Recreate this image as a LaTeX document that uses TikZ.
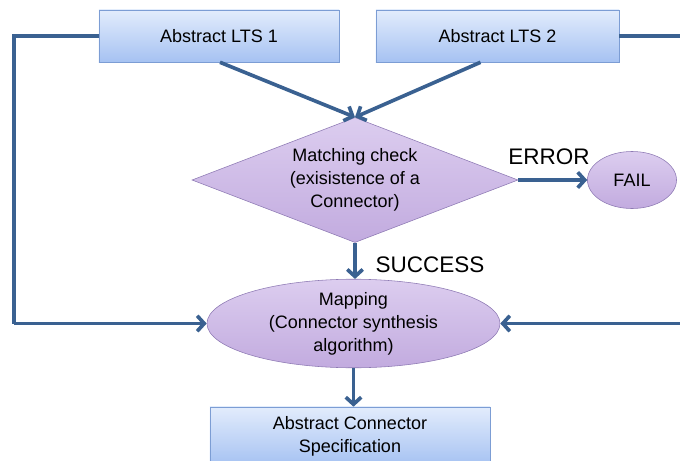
\documentclass[tikz,border=0pt]{standalone}
\usepackage{fontspec}
\setmainfont{Liberation Sans}
\usetikzlibrary{shapes,arrows.meta,calc}
\definecolor{lineblue}{HTML}{3A6191}
\definecolor{boxtop}{HTML}{E2ECFC}
\definecolor{boxbot}{HTML}{A6C2F2}
\definecolor{boxedge}{HTML}{7C9DD4}
\definecolor{purtop}{HTML}{DCCDEF}
\definecolor{purbot}{HTML}{C2ABDF}
\definecolor{puredge}{HTML}{8E7AB4}
\newcommand{\txt}{\fontsize{12.8}{16.3}\selectfont}
\newcommand{\lbl}{\fontsize{16}{18}\selectfont}

\begin{document}
\begin{tikzpicture}[x=0.025cm, y=-0.025cm]
        \tikzset{
            ltsbox/.style={rectangle, draw=boxedge, top color=boxtop, bottom color=boxbot,
                minimum height=1.3cm, inner sep=0pt, align=center, font=\txt},
            checkbox/.style={diamond, draw=puredge, top color=purtop, bottom color=purbot,
                minimum width=8.15cm, minimum height=3.125cm, aspect=2.6, inner sep=0pt,
                align=center, font=\txt},
            mapbox/.style={ellipse, draw=puredge, top color=purtop, bottom color=purbot,
                inner sep=0pt, align=center, font=\txt},
            flow/.style={draw=lineblue, line width=2.6pt, -{Straight Barb[length=5pt,width=11pt]}},
            link/.style={draw=lineblue, line width=2.6pt}
        }
        \useasboundingbox (0,0) rectangle (680,461);

        \node[ltsbox, minimum width=6cm] (lts1) at (219,36) {Abstract LTS 1};
        \node[ltsbox, minimum width=6.075cm] (lts2) at (497.5,36) {Abstract LTS 2};
        \node[checkbox] (check) at (355,180)
            {Matching check\\(exisistence of a\\Connector)};
        \node[mapbox, minimum width=2.225cm, minimum height=1.425cm] (fail) at (632,180) {FAIL};
        \node[mapbox, minimum width=7.325cm, minimum height=1.925cm] (map) at (353.5,323.5)
            {Mapping\\(Connector synthesis\\algorithm)};
        \node[ltsbox, minimum width=7cm, minimum height=1.45cm] (spec) at (350,436)
            {Abstract Connector\\Specification};
        \node[font=\lbl] (error) at (549,157) {ERROR};
        \node[font=\lbl] (success) at (430,265) {SUCCESS};
        \coordinate (l1) at (14,36);
        \coordinate (l2) at (14,323.5);
        \coordinate (r1) at (695,36);
        \coordinate (r2) at (695,323.5);

        \begin{scope}
            \draw[flow] ($(lts1.south)+(1,0)$) -- (check.north);
            \draw[flow] ($(lts2.south)+(-17,0)$) -- (check.north);
            \draw[flow] (check.east) -- (fail.west);
            \draw[flow] (check.south) -- (check.south |- map.north);
            \draw[flow] (map.south) -- (map.south |- spec.north);
            \draw[link] (lts1.west) -- (l1) -- (l2);
            \draw[flow] (l2) -- (map.west);
            \draw[link] (lts2.east) -- (r1) -- (r2);
            \draw[flow] (r2) -- (map.east);
        \end{scope}

\end{tikzpicture}
\end{document}
